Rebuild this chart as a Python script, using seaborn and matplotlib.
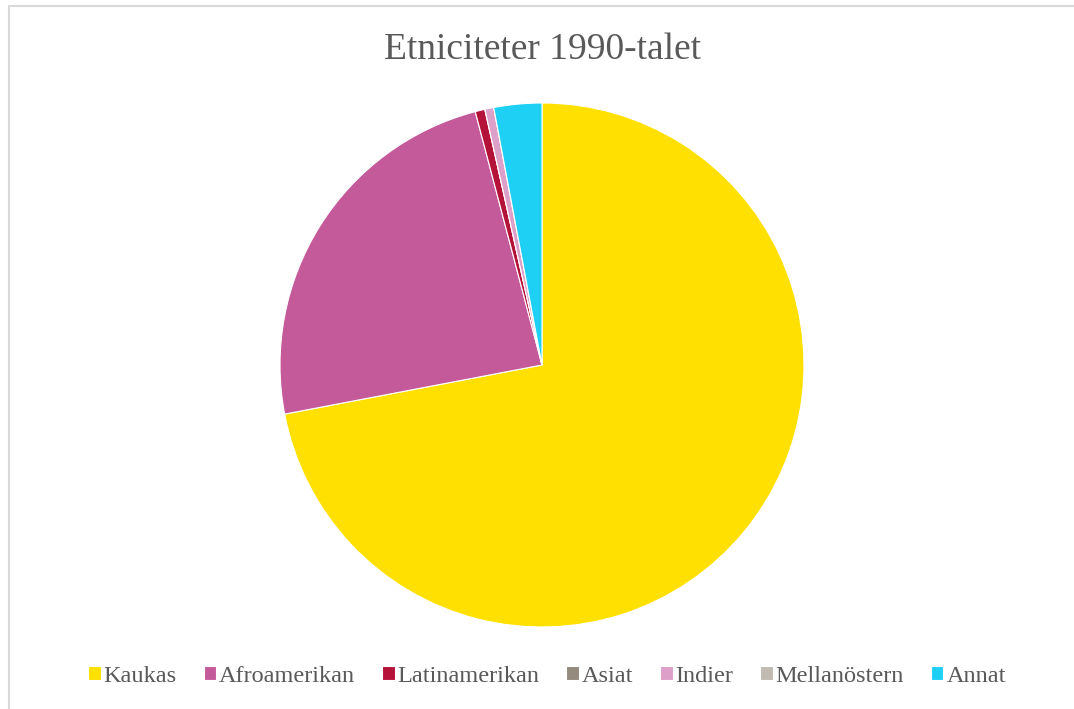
import matplotlib
matplotlib.use("Agg")
import matplotlib.pyplot as plt
import seaborn as sns

# data (percent shares)
categories = ["Kaukas", "Afroamerikan", "Latinamerikan", "Asiat", "Indier", "Mellanöstern", "Annat"]
shares = [72.0, 23.9, 0.6, 0.0, 0.55, 0.0, 2.95]
colors = ["#FFE000", "#C55A9A", "#B5123A", "#948A7E", "#DDA0C8", "#C0BAB2", "#1FD0F5"]

sns.set_theme(style="white")
plt.rcParams["font.family"] = ["Liberation Serif", "DejaVu Serif"]

fig = plt.figure(figsize=(10.74, 7.09), dpi=100)
W, H = 1074, 709

# pie centred at (542, 365) px, radius 262 px
r = 262
cx, cy = 542, 365
ax = fig.add_axes([(cx - r) / W, 1 - (cy + r) / H, 2 * r / W, 2 * r / H])
palette = sns.color_palette(colors)
wedges, _ = ax.pie(
    shares,
    colors=palette,
    startangle=90,
    counterclock=False,
    wedgeprops=dict(edgecolor="white", linewidth=0.8),
)
ax.set_xlim(-1, 1)
ax.set_ylim(-1, 1)
ax.set_aspect("equal")

fig.text(cx / W, 1 - 50 / H, "Etniciteter 1990-talet", ha="center", va="center",
         fontsize=27, color="#595959")

leg = fig.legend(
    wedges, categories, loc="center", bbox_to_anchor=(547 / W, 1 - 676 / H),
    ncol=7, frameon=False, fontsize=17.5, handlelength=0.52, handleheight=0.52,
    handletextpad=0.12, columnspacing=1.1,
)
for t in leg.get_texts():
    t.set_color("#595959")

# chart-area border (top and left visible in reference)
border = "#D9D9D9"
fig.add_artist(plt.Line2D([9 / W, 1], [1 - 6 / H, 1 - 6 / H], color=border, lw=1.5))
fig.add_artist(plt.Line2D([9 / W, 9 / W], [0, 1 - 6 / H], color=border, lw=1.5))

fig.savefig("out.png", dpi=100, facecolor="white")
